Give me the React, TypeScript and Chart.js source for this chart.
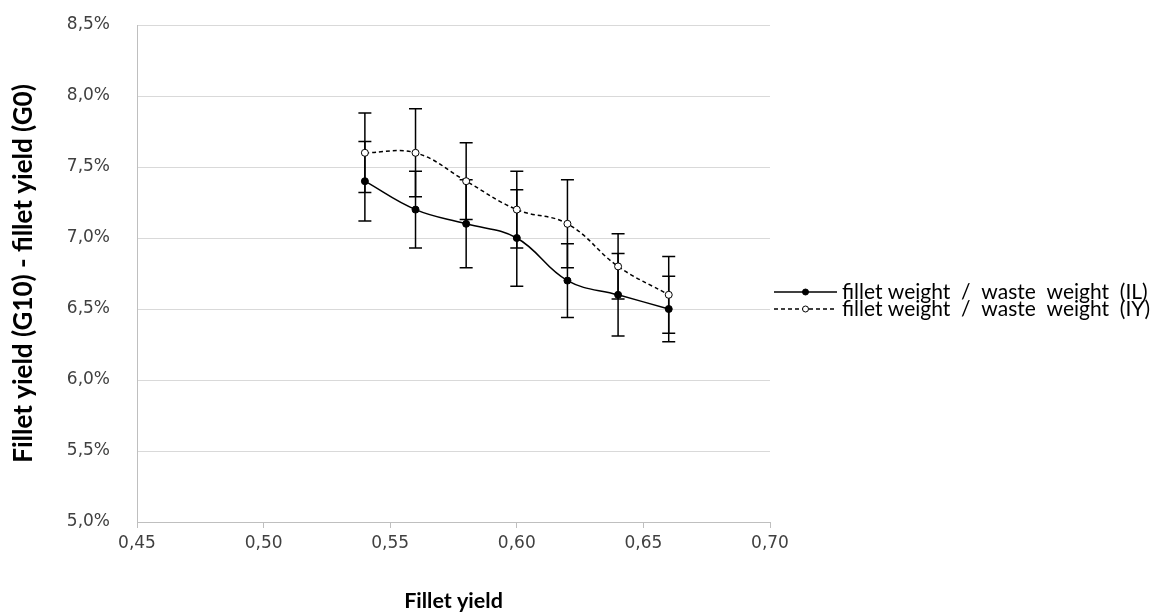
import React, { useEffect, useRef } from 'react';
import { Chart, registerables } from 'chart.js';

Chart.register(...registerables);

// ---- data ----
const xValues = [0.54, 0.56, 0.58, 0.6, 0.62, 0.64, 0.66];
const ilValues = [7.4, 7.2, 7.1, 7.0, 6.7, 6.6, 6.5];
const ilErrors = [0.28, 0.27, 0.31, 0.34, 0.26, 0.29, 0.23];
const iyValues = [7.6, 7.6, 7.4, 7.2, 7.1, 6.8, 6.6];
const iyErrors = [0.28, 0.31, 0.27, 0.27, 0.31, 0.23, 0.27];
const seriesLabels = [
  'fillet weight  /  waste  weight  (IL)',
  'fillet weight  /  waste  weight  (IY)',
];
const yAxisTitle = 'Fillet yield (G10) - fillet yield (G0)';
const xAxisTitle = 'Fillet yield';
const yTickRange = [5.0, 8.5, 0.5];
const xTickRange = [0.45, 0.7, 0.05];

const TICK_FONT = '"DejaVu Sans", Verdana, sans-serif';
const TITLE_FONT = 'Lato, "Liberation Sans", sans-serif';

const errorBarPlugin = {
  id: 'errorBars',
  beforeDatasetsDraw(chart: any) {
    const ctx = chart.ctx;
    const xs = chart.scales.x;
    const ys = chart.scales.y;
    ctx.save();
    ctx.strokeStyle = '#000';
    ctx.lineWidth = 1.5;
    chart.data.datasets.forEach((ds: any) => {
      (ds.data as any[]).forEach((p, i) => {
        const e = ds.errors[i];
        const px = xs.getPixelForValue(p.x);
        const yTop = ys.getPixelForValue(p.y + e);
        const yBot = ys.getPixelForValue(p.y - e);
        ctx.beginPath();
        ctx.moveTo(px, yTop);
        ctx.lineTo(px, yBot);
        ctx.moveTo(px - 6.5, yTop);
        ctx.lineTo(px + 6.5, yTop);
        ctx.moveTo(px - 6.5, yBot);
        ctx.lineTo(px + 6.5, yBot);
        ctx.stroke();
      });
    });
    ctx.restore();
  },
};

const legendPlugin = {
  id: 'customLegend',
  afterDraw(chart: any) {
    const ctx = chart.ctx;
    const x0 = 774;
    const x1 = 837;
    const rows = [292, 309];
    ctx.save();
    chart.data.datasets.forEach((ds: any, i: number) => {
      const y = rows[i];
      ctx.strokeStyle = '#000';
      ctx.lineWidth = 1.5;
      ctx.setLineDash(ds.borderDash || []);
      ctx.beginPath();
      ctx.moveTo(x0, y);
      ctx.lineTo(x1, y);
      ctx.stroke();
      ctx.setLineDash([]);
      ctx.beginPath();
      ctx.arc((x0 + x1) / 2, y, 3, 0, Math.PI * 2);
      ctx.fillStyle = ds.pointBackgroundColor;
      ctx.fill();
      ctx.lineWidth = 1;
      ctx.stroke();
      ctx.fillStyle = '#000';
      ctx.font = '21px ' + TITLE_FONT;
      ctx.textBaseline = 'middle';
      ctx.textAlign = 'left';
      ctx.fillText(ds.label, 842, y);
    });
    ctx.restore();
  },
};

export default function App() {
  const ref = useRef<HTMLCanvasElement | null>(null);

  useEffect(() => {
    document.body.style.margin = '0';
    const canvas = ref.current;
    if (!canvas) return;
    const chart = new Chart(canvas, {
      type: 'line',
      data: {
        datasets: [
          {
            label: seriesLabels[0],
            data: xValues.map((x, i) => ({ x, y: ilValues[i] })),
            errors: ilErrors,
            borderColor: '#000',
            borderWidth: 1.5,
            tension: 0.4,
            pointRadius: 3.5,
            pointBackgroundColor: '#000',
            pointBorderColor: '#000',
            pointBorderWidth: 1,
          } as any,
          {
            label: seriesLabels[1],
            data: xValues.map((x, i) => ({ x, y: iyValues[i] })),
            errors: iyErrors,
            borderColor: '#000',
            borderWidth: 1.5,
            borderDash: [4, 3],
            tension: 0.4,
            pointRadius: 3.5,
            pointBackgroundColor: '#fff',
            pointBorderColor: '#000',
            pointBorderWidth: 1,
          } as any,
        ],
      },
      options: {
        responsive: false,
        animation: false,
        layout: { padding: { top: 25, right: 395, bottom: 0, left: 0 } },
        plugins: {
          legend: { display: false },
          tooltip: { enabled: false },
        },
        scales: {
          x: {
            type: 'linear',
            min: xTickRange[0],
            max: xTickRange[1],
            afterFit: (s: any) => {
              s.height = 92;
            },
            ticks: {
              stepSize: xTickRange[2],
              padding: 5,
              color: '#404040',
              font: { family: TICK_FONT, size: 17 },
              callback: (v: any) => Number(v).toFixed(2).replace('.', ','),
            },
            grid: {
              drawOnChartArea: false,
              drawTicks: true,
              tickLength: 6,
              color: '#bfbfbf',
            },
            border: { color: '#bfbfbf' },
            title: {
              display: true,
              text: xAxisTitle,
              color: '#000',
              font: { family: TITLE_FONT, size: 21.5, weight: 'bold' },
              padding: { top: 0, bottom: 0 },
            },
          },
          y: {
            type: 'linear',
            min: yTickRange[0],
            max: yTickRange[1],
            afterFit: (s: any) => {
              s.width = 137;
              s.paddingTop = 10;
              s.paddingBottom = 10;
            },
            ticks: {
              stepSize: yTickRange[2],
              padding: 27,
              color: '#404040',
              font: { family: TICK_FONT, size: 17 },
              callback: (v: any) => Number(v).toFixed(1).replace('.', ',') + '%',
            },
            grid: { color: '#d9d9d9', drawTicks: false },
            border: { color: '#bfbfbf' },
            title: {
              display: true,
              text: yAxisTitle,
              color: '#000',
              font: { family: TITLE_FONT, size: 26, weight: 'bold' },
              padding: { top: 8, bottom: 0 },
            },
          },
        },
      } as any,
      plugins: [errorBarPlugin, legendPlugin],
    });
    return () => chart.destroy();
  }, []);

  return (
    <div style={{ width: 1165, height: 614 }}>
      <canvas ref={ref} width={1165} height={614} style={{ display: 'block' }} />
    </div>
  );
}
